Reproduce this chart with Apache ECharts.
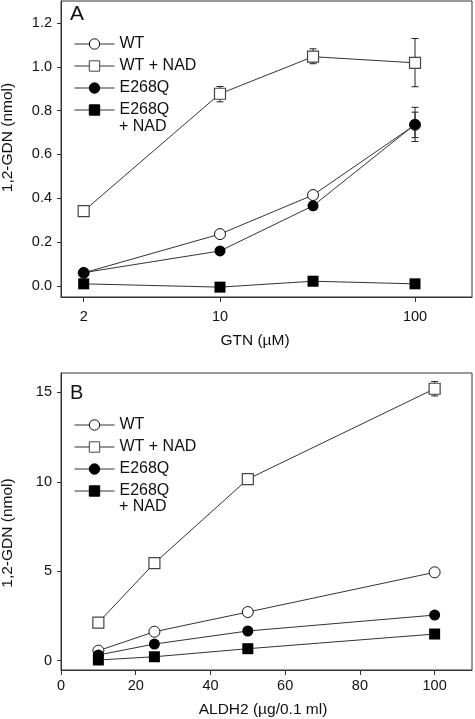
<!DOCTYPE html>
<html>
<head>
<meta charset="utf-8">
<script src="https://cdn.jsdelivr.net/npm/echarts@6/dist/echarts.min.js"></script>
<style>
html,body{margin:0;padding:0;background:#fff;}
#c{width:475px;height:719px;}
</style>
</head>
<body>
<div id="c"></div>
<script>
// ---------- Panel A data (GTN, log scale) ----------
const gtnX = [2, 10, 30, 100];
const aWT = [0.06, 0.237, 0.415, 0.735];
const aWTNAD = [0.342, 0.877, 1.046, 1.018];
const aE268Q = [0.061, 0.16, 0.366, 0.737];
const aE268QNAD = [0.01, -0.005, 0.022, 0.01];
// error bars: [x, low, high]
const aErrWTNAD = [[10, 0.84, 0.91], [30, 1.014, 1.082], [100, 0.909, 1.129]];
const aErrWT = [[100, 0.677, 0.793]];
const aErrE268Q = [[100, 0.659, 0.815]];
const aYTicks = [0, 0.2, 0.4, 0.6, 0.8, 1.0, 1.2];
const aXTicks = [2, 10, 100];

// ---------- Panel B data (ALDH2) ----------
const aldhX = [10, 25, 50, 100];
const bWT = [0.56, 1.62, 2.72, 4.94];
const bWTNAD = [2.13, 5.45, 10.15, 15.2];
const bE268Q = [0.32, 0.93, 1.66, 2.55];
const bE268QNAD = [0.04, 0.22, 0.67, 1.49];
const bErrWTNAD = [[100, 14.8, 15.6]];
const bYTicks = [0, 5, 10, 15];
const bXTicks = [0, 20, 40, 60, 80, 100];

const seriesNames = ['WT', 'WT + NAD', 'E268Q', 'E268Q + NAD'];

const FONT = 'Liberation Sans, Arial, sans-serif';
const AX = '#333';
const LINE = '#333';
const TXT = '#111';
const TICKFS = 14.5;
const NAMEFS = 15.5;
const LEGFS = 16;

function pairs(xs, ys) { return xs.map((x, i) => [x, ys[i]]); }

const styles = [
  { symbol: 'circle', symbolSize: 11, itemStyle: { color: '#fff', borderColor: '#111', borderWidth: 1 } },
  { symbol: 'rect', symbolSize: 11, itemStyle: { color: '#fff', borderColor: '#444', borderWidth: 1.2 } },
  { symbol: 'circle', symbolSize: 11, itemStyle: { color: '#000', borderColor: '#000', borderWidth: 0 } },
  { symbol: 'rect', symbolSize: 11, itemStyle: { color: '#000', borderColor: '#000', borderWidth: 0 } }
];

function lineSeries(idx, name, xs, ys) {
  const s = styles[seriesNames.indexOf(name)];
  return {
    type: 'line', name: name, xAxisIndex: idx, yAxisIndex: idx,
    data: pairs(xs, ys), symbol: s.symbol, symbolSize: s.symbolSize,
    showAllSymbol: true, itemStyle: s.itemStyle,
    lineStyle: { color: LINE, width: 1 }, z: 3, animation: false,
    emphasis: { disabled: true }
  };
}

function errSeries(idx, data) {
  return {
    type: 'custom', xAxisIndex: idx, yAxisIndex: idx, data: data, z: 1,
    encode: { x: 0, y: [1, 2] }, animation: false, silent: true,
    renderItem: function (params, api) {
      const x = api.value(0), lo = api.value(1), hi = api.value(2);
      const p1 = api.coord([x, hi]), p2 = api.coord([x, lo]);
      const w = 3.5;
      const st = { stroke: '#222', lineWidth: 1 };
      return {
        type: 'group', children: [
          { type: 'line', shape: { x1: p1[0], y1: p1[1], x2: p2[0], y2: p2[1] }, style: st },
          { type: 'line', shape: { x1: p1[0] - w, y1: p1[1], x2: p1[0] + w, y2: p1[1] }, style: st },
          { type: 'line', shape: { x1: p2[0] - w, y1: p2[1], x2: p2[0] + w, y2: p2[1] }, style: st }
        ]
      };
    }
  };
}

const axisCommon = {
  axisLine: { show: true, onZero: false, lineStyle: { color: AX, width: 1 } },
  splitLine: { show: false }
};

function legendFor(top) {
  return {
    orient: 'vertical', left: 74, top: top, padding: 0,
    itemWidth: 40, itemHeight: 13, itemGap: 4, selectedMode: false,
    data: seriesNames,
    itemStyle: { borderWidth: 1 },
    lineStyle: { width: 1, color: LINE },
    formatter: function (n) { return n === 'E268Q + NAD' ? 'E268Q' : n; },
    textStyle: { fontFamily: FONT, fontSize: LEGFS, color: TXT, lineHeight: 18 }
  };
}

const option = {
  backgroundColor: '#fff',
  animation: false,
  grid: [
    { left: 61, top: 1, width: 411, height: 296, show: true, borderColor: AX, borderWidth: 1, backgroundColor: 'transparent', containLabel: false, outerBoundsMode: 'none' },
    { left: 61, top: 373, width: 411, height: 297, show: true, borderColor: AX, borderWidth: 1, backgroundColor: 'transparent', containLabel: false, outerBoundsMode: 'none' }
  ],
  xAxis: [
    Object.assign({}, axisCommon, {
      type: 'log', gridIndex: 0, min: 1.53, max: 196, logBase: 10,
      name: 'GTN (µM)', nameLocation: 'middle', nameGap: 36,
      nameTextStyle: { fontFamily: FONT, fontSize: NAMEFS, color: TXT, padding: [0, 23, 0, 0] },
      axisTick: { show: true, length: 5, customValues: aXTicks, lineStyle: { color: AX } },
      axisLabel: { customValues: aXTicks, fontFamily: FONT, fontSize: TICKFS, color: TXT, margin: 12, formatter: v => String(v) }
    }),
    Object.assign({}, axisCommon, {
      type: 'value', gridIndex: 1, min: 0, max: 110,
      name: 'ALDH2 (µg/0.1 ml)', nameLocation: 'middle', nameGap: 32,
      nameTextStyle: { fontFamily: FONT, fontSize: NAMEFS, color: TXT, padding: [0, 7, 0, 0] },
      axisTick: { show: true, length: 5, customValues: bXTicks, lineStyle: { color: AX } },
      axisLabel: { customValues: bXTicks, fontFamily: FONT, fontSize: TICKFS, color: TXT, margin: 8, formatter: v => String(v) }
    })
  ],
  yAxis: [
    Object.assign({}, axisCommon, {
      type: 'value', gridIndex: 0, min: -0.05, max: 1.3,
      name: '1,2-GDN (nmol)', nameLocation: 'middle', nameGap: 45, nameRotate: 90,
      nameTextStyle: { fontFamily: FONT, fontSize: NAMEFS, color: TXT, padding: [0, 0, 0, 23] },
      axisTick: { show: true, length: 4, customValues: aYTicks, lineStyle: { color: AX } },
      axisLabel: { customValues: aYTicks, fontFamily: FONT, fontSize: TICKFS, color: TXT, margin: 9, formatter: v => v.toFixed(1) }
    }),
    Object.assign({}, axisCommon, {
      type: 'value', gridIndex: 1, min: -0.52, max: 16.08,
      name: '1,2-GDN (nmol)', nameLocation: 'middle', nameGap: 45, nameRotate: 90,
      nameTextStyle: { fontFamily: FONT, fontSize: NAMEFS, color: TXT, padding: [0, 23, 0, 0] },
      axisTick: { show: true, length: 4, customValues: bYTicks, lineStyle: { color: AX } },
      axisLabel: { customValues: bYTicks, fontFamily: FONT, fontSize: TICKFS, color: TXT, margin: 9, formatter: v => String(v) }
    })
  ],
  legend: [legendFor(35), legendFor(416)],
  graphic: [
    { type: 'text', left: 70, top: 4, style: { text: 'A', font: '21px ' + FONT, fill: TXT } },
    { type: 'text', left: 70, top: 383, style: { text: 'B', font: '20px ' + FONT, fill: TXT } },
    { type: 'text', left: 119, top: 119, style: { text: '+ NAD', font: LEGFS + 'px ' + FONT, fill: TXT } },
    { type: 'text', left: 119, top: 499, style: { text: '+ NAD', font: LEGFS + 'px ' + FONT, fill: TXT } }
  ],
  series: [
    errSeries(0, aErrWTNAD), errSeries(0, aErrWT), errSeries(0, aErrE268Q),
    lineSeries(0, 'WT', gtnX, aWT),
    lineSeries(0, 'WT + NAD', gtnX, aWTNAD),
    lineSeries(0, 'E268Q', gtnX, aE268Q),
    lineSeries(0, 'E268Q + NAD', gtnX, aE268QNAD),
    errSeries(1, bErrWTNAD),
    lineSeries(1, 'WT', aldhX, bWT),
    lineSeries(1, 'WT + NAD', aldhX, bWTNAD),
    lineSeries(1, 'E268Q', aldhX, bE268Q),
    lineSeries(1, 'E268Q + NAD', aldhX, bE268QNAD)
  ]
};

const chart = echarts.init(document.getElementById('c'), null, { renderer: 'canvas' });
chart.setOption(option);
</script>
</body>
</html>
